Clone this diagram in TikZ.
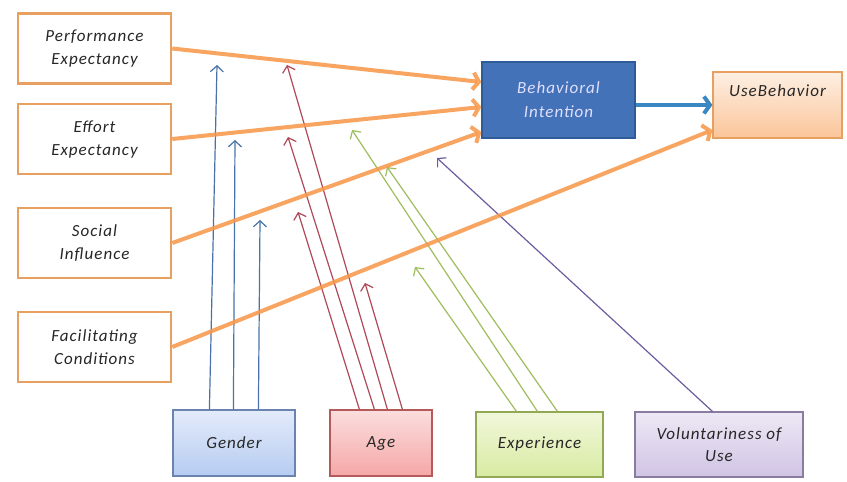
\documentclass[tikz,border=0pt]{standalone}
\usepackage{fontspec}
\setmainfont{Carlito}
\newfontfamily\boxfont[LetterSpace=6]{Carlito}
\usetikzlibrary{arrows.meta}
\definecolor{lineorange}{HTML}{F79646}
\definecolor{boxorange}{HTML}{E8A060}
\definecolor{intentblue}{HTML}{4372B8}
\definecolor{intentedge}{HTML}{2F5B96}
\definecolor{genblue}{HTML}{4A72A8}
\definecolor{agered}{HTML}{B04858}
\definecolor{expgreen}{HTML}{9EBE5E}
\definecolor{volpurple}{HTML}{6E5CA0}
\definecolor{genfill}{HTML}{8FB0EA}
\definecolor{agefill}{HTML}{F07878}
\definecolor{expfill}{HTML}{C4E070}
\definecolor{volfill}{HTML}{B8A4D6}
\tikzset{
  factor/.style={draw=boxorange, line width=2.5pt, fill=white, minimum width=153pt,
    minimum height=70pt, inner sep=0pt, align=center, text=black!85,
    font=\boxfont\itshape\fontsize{17}{23}\selectfont},
  moderator/.style={draw=#1!75!black, line width=1.2pt, top color=#1!25, bottom color=#1!65,
    minimum height=66pt, inner sep=0pt, align=center, text=black!85,
    font=\boxfont\itshape\fontsize{17}{22}\selectfont},
  thin/.style={draw=#1, line width=1.2pt, -{Straight Barb[length=6pt,width=13pt]}},
  thick/.style={draw=lineorange, opacity=0.85, line width=4pt, -{Straight Barb[length=6pt,width=17pt]}}
}
\begin{document}
\begin{tikzpicture}[x=1pt,y=-1pt]
\useasboundingbox[fill=white] (0,0) rectangle (847,482);

\node[factor] (pe) at (94.5,48.5) {Performance\\Expectancy};
\node[factor] (ee) at (94.5,139) {Effort\\Expectancy};
\node[factor] (si) at (94.5,243) {Social\\Influence};
\node[factor] (fc) at (94.5,347) {Facilitating\\Conditions};

\node[draw=intentedge, line width=1.2pt, fill=intentblue, minimum width=153pt, minimum height=76pt,
  inner sep=0pt, align=center, text=white!88!blue,
  font=\boxfont\itshape\fontsize{17}{24}\selectfont] (bi) at (558.5,100) {Behavioral\\Intention};
\node[draw=boxorange, line width=1.2pt, top color=lineorange!15, bottom color=lineorange!55,
  minimum width=129pt, minimum height=66pt, inner sep=0pt, align=center, text=black!85,
  font=\boxfont\itshape\fontsize{17}{22}\selectfont] (ub) at (777.5,105) {UseBehavior\\\strut};

\node[moderator=genfill, minimum width=122pt] (gen) at (234,443) {Gender};
\node[moderator=agefill, minimum width=102pt] (age) at (381,443) {Age};
\node[moderator=expfill, minimum width=127pt, minimum height=65pt] (exp) at (539.5,444.5) {Experience};
\node[moderator=volfill, minimum width=168pt, minimum height=65pt] (vol) at (719,444.5) {Voluntariness of\\Use};

\coordinate (g1) at (217,65);
\coordinate (g2) at (235,140);
\coordinate (g3) at (260,220);
\coordinate (a1) at (298,212);
\coordinate (a2) at (288,137);
\coordinate (a3) at (287,65);
\coordinate (a4) at (365,283);
\coordinate (e1) at (415,267);
\coordinate (e2) at (352,130);
\coordinate (e3) at (387,167);
\coordinate (v1) at (437,158);

\draw[thin=genblue] ([xshift=37pt]gen.north west) -- (g1);
\draw[thin=genblue] ([xshift=61pt]gen.north west) -- (g2);
\draw[thin=genblue] ([xshift=86pt]gen.north west) -- (g3);
\draw[thin=agered] ([xshift=30pt]age.north west) -- (a1);
\draw[thin=agered] ([xshift=45pt]age.north west) -- (a2);
\draw[thin=agered] ([xshift=58pt]age.north west) -- (a3);
\draw[thin=agered] ([xshift=73pt]age.north west) -- (a4);
\draw[thin=expgreen] ([xshift=41pt]exp.north west) -- (e1);
\draw[thin=expgreen] ([xshift=62pt]exp.north west) -- (e2);
\draw[thin=expgreen] ([xshift=82pt]exp.north west) -- (e3);
\draw[thin=volpurple] ([xshift=78pt]vol.north west) -- (v1);

\draw[thick] (pe.east) -- ([yshift=18pt]bi.west);
\draw[thick] (ee.east) -- ([yshift=-7pt]bi.west);
\draw[thick] (si.east) -- ([yshift=-32pt]bi.west);
\draw[thick] (fc.east) -- ([yshift=-25pt]ub.west);
\draw[thick, draw=intentblue!85!cyan, opacity=1] (bi.east |- ub.west) -- (ub.west);
\end{tikzpicture}
\end{document}
